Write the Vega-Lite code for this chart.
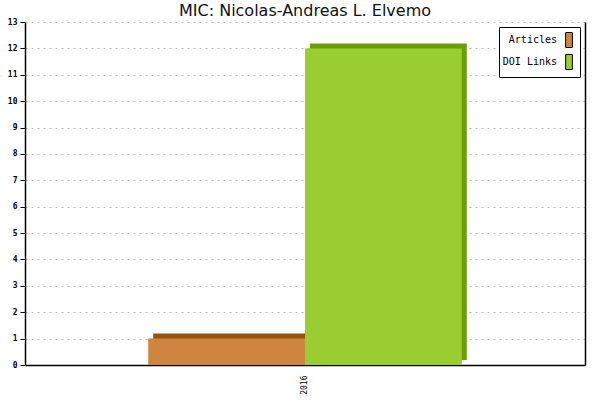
{
  "$schema": "https://vega.github.io/schema/vega-lite/v6.json",
  "width": 560,
  "height": 343,
  "autosize": {"type": "none"},
  "padding": {"left": 25, "top": 22, "right": 15, "bottom": 35},
  "background": "white",
  "title": {
    "text": "MIC: Nicolas-Andreas L. Elvemo",
    "font": "DejaVu Sans",
    "fontSize": 16,
    "fontWeight": "normal",
    "color": "#111",
    "anchor": "middle",
    "offset": -1
  },
  "data": {
    "values": [
      {"year": "2016", "series": "Articles", "value": 1},
      {"year": "2016", "series": "DOI Links", "value": 12}
    ]
  },
  "encoding": {
    "x": {
      "field": "series",
      "type": "nominal",
      "title": null,
      "sort": ["Articles", "DOI Links"],
      "scale": {"paddingInner": 0, "paddingOuter": 0.786},
      "axis": {
        "labelExpr": "datum.label == 'Articles' ? '2016' : ''",
        "labelOffset": 78,
        "labelAngle": -90,
        "labelAlign": "right",
        "labelBaseline": "middle",
        "labelFont": "DejaVu Sans Mono",
        "labelFontSize": 8,
        "labelColor": "#000",
        "labelPadding": 10,
        "ticks": false,
        "domainColor": "#000",
        "domainWidth": 1.5
      }
    },
    "y": {
      "field": "value",
      "type": "quantitative",
      "title": null,
      "scale": {"domain": [0, 13], "nice": false}
    }
  },
  "layer": [
    {
      "mark": {"type": "bar", "xOffset": 5, "x2Offset": 5, "yOffset": -5, "y2Offset": -5},
      "encoding": {
        "y": {
          "field": "value",
          "type": "quantitative",
          "title": null,
          "scale": {"domain": [0, 13], "nice": false},
          "axis": {
            "values": [0, 1, 2, 3, 4, 5, 6, 7, 8, 9, 10, 11, 12, 13],
            "labelFont": "DejaVu Sans Mono",
            "labelFontSize": 8,
            "labelFontWeight": "bold",
            "labelColor": "#000",
            "labelPadding": 3,
            "tickColor": "#000",
            "tickSize": 5,
            "domainColor": "#000",
            "domainWidth": 1.5,
            "gridColor": "#bbbbbb",
            "gridDash": [2, 4]
          }
        },
        "color": {
          "condition": {"test": "datum.series == 'Articles'", "value": "#98520f"},
          "value": "#6a9f00"
        }
      }
    },
    {
      "mark": {"type": "bar"},
      "encoding": {
        "y": {
          "field": "value",
          "type": "quantitative",
          "title": null,
          "scale": {"domain": [0, 13], "nice": false},
          "axis": {
            "orient": "right",
            "labels": false,
            "ticks": false,
            "grid": false,
            "domainColor": "#000",
            "domainWidth": 1.5
          }
        },
        "color": {
          "field": "series",
          "type": "nominal",
          "scale": {"domain": ["Articles", "DOI Links"], "range": ["#cd853f", "#9acd32"]},
          "legend": {
            "title": null,
            "orient": "top-right",
            "offset": 5,
            "padding": 5,
            "strokeColor": "#000",
            "fillColor": "#fff",
            "symbolType": "M-0.45,-1L0.45,-1L0.45,1L-0.45,1Z",
            "symbolSize": 225,
            "symbolStrokeColor": "#000",
            "symbolStrokeWidth": 1,
            "symbolOpacity": 1,
            "symbolOffset": 57,
            "labelOffset": -20,
            "labelAlign": "right",
            "labelFont": "DejaVu Sans Mono",
            "labelFontSize": 10,
            "labelColor": "#000",
            "rowPadding": 2
          }
        }
      }
    }
  ],
  "resolve": {"axis": {"y": "independent"}},
  "config": {"view": {"stroke": null}}
}
